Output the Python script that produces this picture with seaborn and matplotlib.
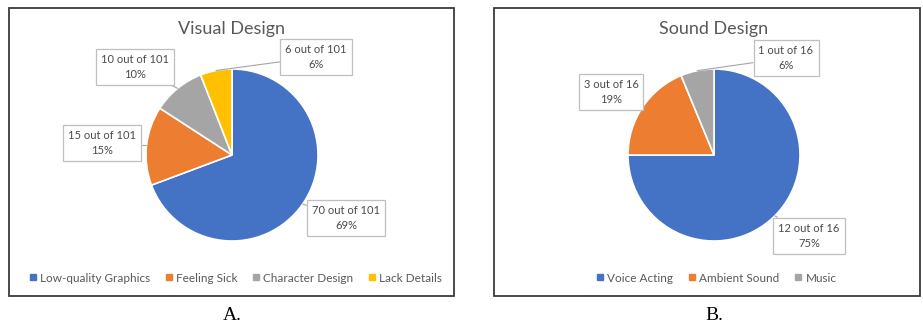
import numpy as np
import matplotlib
matplotlib.use("Agg")
import matplotlib.pyplot as plt
import seaborn as sns
from matplotlib.patches import Rectangle
from matplotlib.lines import Line2D

sns.set_style("white")
plt.rcParams['font.family'] = ['Lato', 'DejaVu Sans']

# data
visual_labels = ['Low-quality Graphics', 'Feeling Sick', 'Character Design', 'Lack Details']
visual_counts = [70, 15, 10, 6]
sound_labels = ['Voice Acting', 'Ambient Sound', 'Music']
sound_counts = [12, 3, 1]

colors = sns.color_palette(['#4472C4', '#ED7D31', '#A5A5A5', '#FFC000'])

W, H = 923, 326
fig = plt.figure(figsize=(W / 100, H / 100), dpi=100)


def px_axes(cx, cy, r):
    return fig.add_axes([(cx - r) / W, 1 - (cy + r) / H, 2 * r / W, 2 * r / H])


def frame(x0, y0, x1, y1):
    fig.patches.append(Rectangle((x0 / W, 1 - y1 / H), (x1 - x0) / W, (y1 - y0) / H,
                                 transform=fig.transFigure, fill=False,
                                 edgecolor='#3a3a3a', lw=1.3))


def draw_pie(cx, cy, r, counts, names, title, label_pos, leg_x, caption):
    ax = px_axes(cx, cy, r)
    total = sum(counts)
    wedges, _ = ax.pie(counts, colors=colors[:len(counts)], startangle=90,
                       counterclock=False, radius=1,
                       wedgeprops=dict(edgecolor='white', linewidth=1.2))
    ax.set_xlim(-1, 1)
    ax.set_ylim(-1, 1)
    ax.set_aspect('equal')
    ax.axis('off')
    for w, c, (lx, ly) in zip(wedges, counts, label_pos):
        mid = np.deg2rad((w.theta1 + w.theta2) / 2)
        txt = f"{c} out of {total}\n{round(c / total * 100)}%"
        ax.annotate(txt, xy=(np.cos(mid), np.sin(mid)),
                    xytext=((lx - cx) / r, (cy - ly) / r),
                    ha='center', va='center', fontsize=8, color='#4a4a4a',
                    linespacing=1.5, annotation_clip=False,
                    bbox=dict(boxstyle='square,pad=0.45', fc='white', ec='#BFBFBF', lw=0.9),
                    arrowprops=dict(arrowstyle='-', color='#A6A6A6', lw=0.8,
                                    shrinkA=0, shrinkB=0))
    fig.text(cx / W, 1 - 29 / H, title, ha='center', va='center',
             fontsize=13, color='#595959')
    handles = [Line2D([], [], marker='s', ls='', color=colors[i], markersize=5)
               for i in range(len(names))]
    fig.legend(handles, names, loc='center', bbox_to_anchor=(leg_x / W, 1 - 278 / H),
               ncol=len(names), frameon=False, fontsize=8.5, handletextpad=0.2,
               columnspacing=1.2, labelcolor='#595959', handlelength=0.8)
    fig.text(cx / W, 1 - 315 / H, caption, ha='center', va='center',
             fontsize=14, family='Liberation Serif', color='black')


frame(9, 8, 454, 296)
frame(494, 8, 920, 296)

draw_pie(232, 155, 86, visual_counts, visual_labels, 'Visual Design',
         [(346, 218), (102, 143), (135, 67), (316, 57)], 235, 'A.')
draw_pie(714, 155, 86, sound_counts, sound_labels, 'Sound Design',
         [(809, 236), (611, 92), (786, 58)], 716, 'B.')

fig.savefig('out.png', dpi=100, facecolor='white')
